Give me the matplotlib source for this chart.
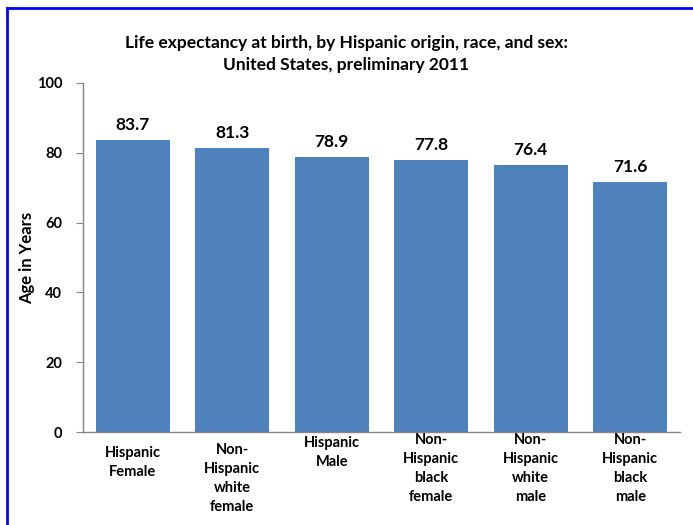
import matplotlib
matplotlib.use("Agg")
import matplotlib.pyplot as plt
import matplotlib.transforms as mtransforms
from matplotlib import font_manager
from matplotlib.lines import Line2D

# data
groups = ["Hispanic\nFemale", "Non-\nHispanic\nwhite\nfemale", "Hispanic\nMale",
          "Non-\nHispanic\nblack\nfemale", "Non-\nHispanic\nwhite\nmale",
          "Non-\nHispanic\nblack\nmale"]
life_exp = [83.7, 81.3, 78.9, 77.8, 76.4, 71.6]
yticks = [0, 20, 40, 60, 80, 100]

# label drop below the axis, in pixels (Excel style placement)
label_drop = [14, 11, 4, 1, 1, 1]

# pick a family that really has a bold face
fam = "DejaVu Sans"
for name in ["Lato", "Open Sans", "Noto Sans", "Roboto"]:
    weights = [f.weight for f in font_manager.fontManager.ttflist if f.name == name]
    if any(w in (700, "bold") for w in weights):
        fam = name
        break
plt.rcParams['font.family'] = [fam, 'DejaVu Sans']

fig = plt.figure(figsize=(6.93, 5.25), dpi=100)
ax = fig.add_axes([83/693, 93/525, 597/693, 349/525])

x = list(range(len(life_exp)))
ax.bar(x, life_exp, width=0.74, color="#4F81BD")

ax.set_xlim(-0.5, 5.5)
ax.set_ylim(0, 100)
ax.set_yticks(yticks)
ax.set_yticklabels([str(t) for t in yticks], fontsize=10.5, fontweight="bold")
ax.set_xticks([])

for s in ["top", "right"]:
    ax.spines[s].set_visible(False)
for s in ["left", "bottom"]:
    ax.spines[s].set_color("#868686")
    ax.spines[s].set_linewidth(1)
ax.tick_params(axis="y", direction="out", length=5, color="#868686", pad=10)

ax.set_ylabel("Age in Years", fontsize=12, fontweight="bold")
ax.yaxis.set_label_coords(-48/597, 0.5)

# value labels
for xi, v in zip(x, life_exp):
    ax.annotate(f"{v}", (xi, v), xytext=(0, 7), textcoords="offset pixels",
                ha="center", va="bottom", fontsize=12.5, fontweight="bold")

# category labels
base = mtransforms.blended_transform_factory(ax.transData, ax.transAxes)
for xi, lab, d in zip(x, groups, label_drop):
    tr = mtransforms.offset_copy(base, fig=fig, x=0, y=-d, units="dots")
    ax.text(xi, 0, lab, transform=tr, ha="center", va="top", fontsize=10.5,
            fontweight="bold", linespacing=1.45)

fig.text(0.5, 1 - 54/525, "Life expectancy at birth, by Hispanic origin, race, and sex:\nUnited States, preliminary 2011",
         ha="center", va="center", fontsize=12.5, fontweight="bold", linespacing=1.5)

# blue frame on left and top
fig.add_artist(Line2D([7/693, 7/693], [0, 1 - 8/525], color="#0000FF", lw=2,
                      transform=fig.transFigure))
fig.add_artist(Line2D([7/693, 1], [1 - 8/525, 1 - 8/525], color="#0000FF", lw=2,
                      transform=fig.transFigure))

fig.savefig("out.png", dpi=100)
